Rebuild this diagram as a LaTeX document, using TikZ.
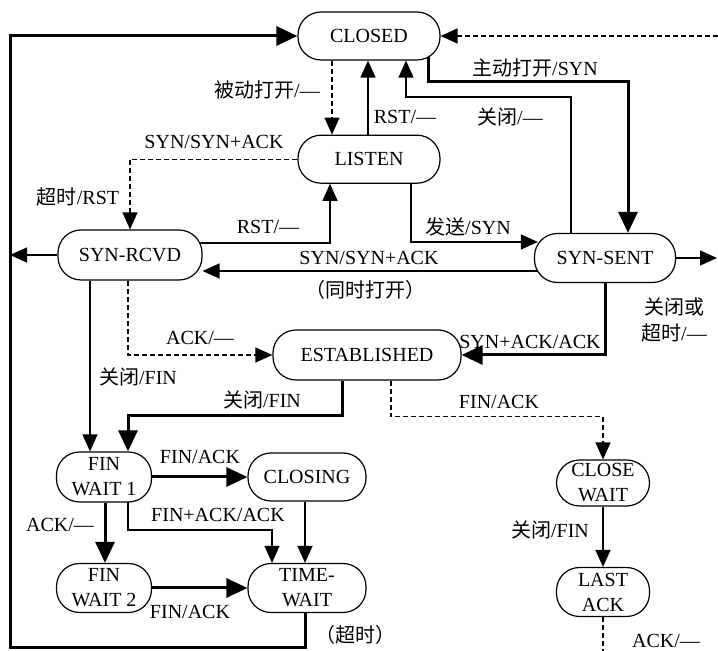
\documentclass[tikz,border=0pt]{standalone}
\usepackage{fontspec}
\setmainfont{Liberation Serif}
\newfontfamily\cjk{Noto Sans CJK SC}
\usetikzlibrary{positioning,arrows.meta,backgrounds}

\begin{document}
\begin{tikzpicture}[x=0.5pt,y=-0.5pt,font=\fontsize{10}{12.5}\selectfont,
  st/.style={rectangle,rounded corners=11.5pt,draw=black,line width=0.6pt,fill=white,align=center,inner sep=0pt},
  ar/.style={-{Triangle[length=8.5pt,width=7.5pt]},line width=0.65pt},
  tk/.style={-{Triangle[length=10.5pt,width=9.5pt]},line width=1.5pt},
  dsh/.style={ar,dash pattern=on 2.5pt off 1.5pt},
  lb/.style={inner sep=0pt,align=center}]
\useasboundingbox (0,0) rectangle (718,651);
% states
\node[st,minimum width=71pt,minimum height=24pt](closed) at (369,36){CLOSED};
\node[st,minimum width=71pt,minimum height=24pt,below=37pt of closed](listen){LISTEN};
\node[st,minimum width=72pt,minimum height=25pt](synrcvd) at (130,255){SYN-RCVD};
\node[st,minimum width=70.5pt,minimum height=24.5pt](synsent) at (605,258){SYN-SENT};
\node[st,minimum width=94pt,minimum height=25pt](estab) at (367,355){ESTABLISHED};
\node[st,minimum width=47.5pt,minimum height=25pt](fw1) at (104,477){FIN\\WAIT 1};
\node[st,minimum width=59pt,minimum height=24pt](closing) at (307,477){CLOSING};
\node[st,minimum width=47.5pt,minimum height=24.5pt](fw2) at (104,588){FIN\\WAIT 2};
\node[st,minimum width=59pt,minimum height=24.5pt](timewait) at (307,588){TIME-\\WAIT};
\node[st,minimum width=46.5pt,minimum height=23pt](closewait) at (603,483){CLOSE\\WAIT};
\node[st,minimum width=46.5pt,minimum height=24.5pt](lastack) at (603,592){LAST\\ACK};
% free ends
\coordinate (tr) at (718,36);
\coordinate (lc) at (10,648);
\coordinate (rt) at (717,258);
\coordinate (bt) at (603,651);
% transitions
\begin{scope}[on background layer]
\draw[tk]([xshift=-1pt]timewait.south) |- (lc) |- (closed.west);
\draw[ar](synrcvd.west) -- (synrcvd.west -| lc);
\draw[dsh](tr) -- (closed.east);
\draw[dsh]([xshift=-18.5pt]closed.south) -- ([xshift=-18.5pt]listen.north);
\draw[ar]([xshift=-0.5pt]listen.north) -- ([xshift=-0.5pt]closed.south);
\draw[ar]([xshift=-17pt]synsent.north) -- ++(0,-136) -| ([xshift=18.5pt]closed.south);
\draw[tk]([xshift=29.5pt]closed.center) -- ++(0,46) -| ([xshift=11.5pt]synsent.north);
\draw[dsh](listen.west) -| (synrcvd.north);
\draw[ar]([yshift=6pt]synrcvd.center) -| ([xshift=-19.5pt]listen.south);
\draw[ar]([xshift=21pt]listen.south) |- ([xshift=2pt,yshift=8pt]synsent.west);
\draw[ar]([yshift=-6.5pt]synsent.center) -- ([yshift=-8pt]synrcvd.east);
\draw[ar](synsent.east) -- (rt);
\draw[tk](synsent.south) |- (estab.east);
\draw[dsh]([xshift=-1pt]synrcvd.south) |- (estab.west);
\draw[ar]([xshift=-20pt]synrcvd.south) -- ([xshift=-7pt]fw1.north);
\draw[tk]([xshift=-12.5pt]estab.south) -- ++(0,35) -| ([xshift=12pt]fw1.north);
\draw[dsh]([xshift=12pt]estab.south) -- ++(0,36) -| (closewait.north);
\draw[tk](fw1.east) -- (closing.west);
\draw[ar]([xshift=12pt]fw1.center) -- ++(0,53) -| ([xshift=-17.5pt]timewait.north);
\draw[ar]([xshift=-1pt]closing.south) -- ([xshift=-1pt]timewait.north);
\draw[tk]([xshift=0.5pt]fw1.south) -- ([xshift=0.5pt]fw2.north);
\draw[tk](fw2.east) -- (timewait.west);
\draw[ar](closewait.south) -- (lastack.north);
\draw[dsh,-](lastack.south) -- (bt);
\end{scope}
% labels
\node[lb](lpassive) at (267,90){{\cjk 被动打开}/—};
\node[lb](lrst1) at (405,117){RST/—};
\node[lb](lclose1) at (510,117){{\cjk 关闭}/—};
\node[lb](lactive) at (535,68){{\cjk 主动打开}/SYN};
\node[lb](lsyn1) at (214,142){SYN/SYN+ACK};
\node[lb](ltmo1) at (78,197){{\cjk 超时}/RST};
\node[lb](lrst2) at (268,227){RST/—};
\node[lb](lsend) at (468,227){{\cjk 发送}/SYN};
\node[lb](lsyn2) at (369,258){SYN/SYN+ACK};
\node[lb](lsim) at (365,290){\cjk （同时打开）};
\node[lb,font=\fontsize{10}{13}\selectfont](lcto) at (674,320){\cjk 关闭或\\{\cjk 超时}/—};
\node[lb](lsynack) at (530,342){SYN+ACK/ACK};
\node[lb](lack1) at (200,338){ACK/—};
\node[lb](lfin1) at (138,377){{\cjk 关闭}/FIN};
\node[lb](lfin2) at (262,400){{\cjk 关闭}/FIN};
\node[lb](lfinack1) at (499,402){FIN/ACK};
\node[lb](lfinack2) at (200,457){FIN/ACK};
\node[lb](lfinackack) at (218,515){FIN+ACK/ACK};
\node[lb](lack2) at (60,525){ACK/—};
\node[lb](lfinack3) at (190,612){FIN/ACK};
\node[lb](ltmo2) at (355,635){\cjk （超时）};
\node[lb](lfin3) at (550,530){{\cjk 关闭}/FIN};
\node[lb](lack3) at (666,641){ACK/—};
\end{tikzpicture}
\end{document}
